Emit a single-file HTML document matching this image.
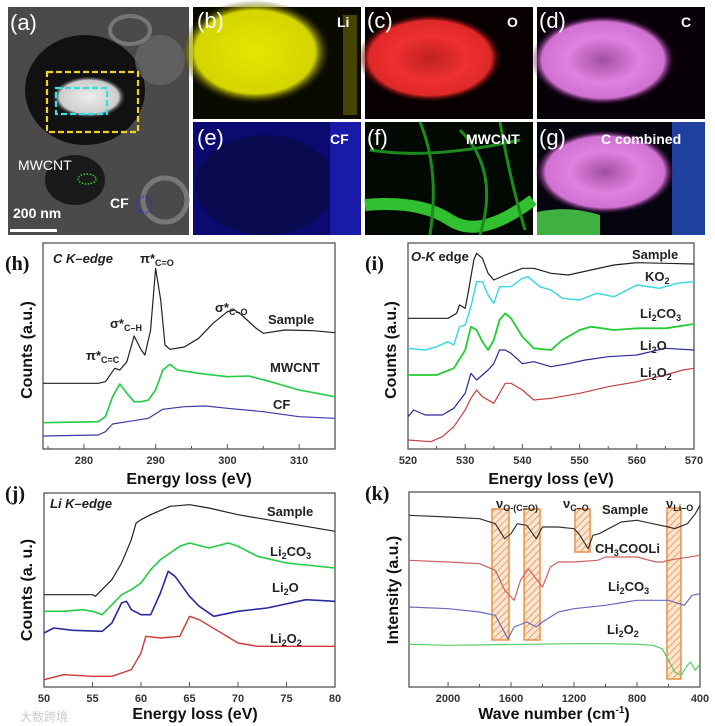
<!DOCTYPE html>
<html><head><meta charset="utf-8">
<style>
html,body{margin:0;padding:0;background:#fff;}
svg{display:block;font-family:"Liberation Sans",sans-serif;}
.lab{font-weight:bold;font-size:13px;fill:#222;}
.tick{font-weight:bold;font-size:11px;fill:#333;}
.title{font-weight:bold;font-size:16px;fill:#111;}
.pl{font-family:"Liberation Serif",serif;font-weight:bold;font-size:20px;fill:#111;}
.il{font-size:22px;fill:#fff;}
</style></head><body>
<svg id="fig" width="715" height="726" viewBox="0 0 715 726">
<defs>
<pattern id="hatch" width="5" height="5" patternUnits="userSpaceOnUse" patternTransform="rotate(45)">
<rect width="5" height="5" fill="#fbe6d3"/><line x1="0" y1="0" x2="0" y2="5" stroke="#e8914a" stroke-width="1.6"/></pattern>
<radialGradient id="gY"><stop offset="0" stop-color="#e6e600"/><stop offset="0.8" stop-color="#d4d400"/><stop offset="1" stop-color="#333300" stop-opacity="0"/></radialGradient>
<radialGradient id="gR"><stop offset="0" stop-color="#c02020"/><stop offset="0.5" stop-color="#ee3030"/><stop offset="0.85" stop-color="#e02828"/><stop offset="1" stop-color="#300" stop-opacity="0"/></radialGradient>
<radialGradient id="gP"><stop offset="0" stop-color="#a050a0"/><stop offset="0.5" stop-color="#e080e0"/><stop offset="0.85" stop-color="#d070d0"/><stop offset="1" stop-color="#303" stop-opacity="0"/></radialGradient>
<radialGradient id="gW"><stop offset="0" stop-color="#eee"/><stop offset="0.8" stop-color="#ccc"/><stop offset="1" stop-color="#222" stop-opacity="0"/></radialGradient>
</defs>

<!-- (a) -->
<g>
<rect x="8" y="7" width="181" height="228" fill="#4a4a4a"/>
<ellipse cx="85" cy="90" rx="60" ry="55" fill="#111"/>
<ellipse cx="75" cy="180" rx="30" ry="25" fill="#1a1a1a"/>
<ellipse cx="160" cy="60" rx="25" ry="25" fill="#6a6a6a" opacity="0.7"/>
<ellipse cx="165" cy="200" rx="22" ry="22" fill="none" stroke="#777" stroke-width="5"/>
<ellipse cx="130" cy="30" rx="20" ry="14" fill="none" stroke="#777" stroke-width="4"/>
<ellipse cx="89" cy="97" rx="37" ry="21" fill="url(#gW)"/>
<rect x="47" y="72" width="91" height="60" fill="none" stroke="#f0d020" stroke-width="2.2" stroke-dasharray="6,3"/>
<rect x="56" y="88" width="51" height="26" fill="none" stroke="#30e0e0" stroke-width="2.2" stroke-dasharray="6,3"/>
<ellipse cx="87" cy="179" rx="9" ry="5" fill="none" stroke="#20d020" stroke-width="1.5" stroke-dasharray="1.5,1.5"/>
<circle cx="144" cy="205" r="8" fill="none" stroke="#2030c0" stroke-width="1.5" stroke-dasharray="1.5,1.5"/>
<text x="10" y="30" class="il">(a)</text>
<text x="18" y="170" style="font-size:14px;fill:#fff">MWCNT</text>
<text x="110" y="208" style="font-size:14px;fill:#fff;font-weight:bold">CF</text>
<text x="13" y="218" style="font-size:14px;fill:#fff;font-weight:bold">200 nm</text>
<rect x="10" y="229" width="47" height="3" fill="#fff"/>
</g>
<!-- (b) -->
<g>
<rect x="193" y="7" width="168" height="112" fill="#0a0a00"/>
<ellipse cx="255" cy="52" rx="75" ry="52" fill="url(#gY)"/>
<rect x="343" y="15" width="14" height="100" fill="#6a6a00" opacity="0.6"/>
<text x="197" y="28" class="il">(b)</text>
<text x="337" y="27" style="font-size:14px;fill:#fff;font-weight:bold">Li</text>
</g>
<!-- (c) -->
<g>
<rect x="365" y="7" width="168" height="112" fill="#080000"/>
<ellipse cx="430" cy="58" rx="72" ry="44" fill="url(#gR)"/>
<text x="367" y="28" class="il">(c)</text>
<text x="507" y="27" style="font-size:14px;fill:#fff;font-weight:bold">O</text>
</g>
<!-- (d) -->
<g>
<rect x="537" y="7" width="168" height="112" fill="#080008"/>
<ellipse cx="603" cy="60" rx="72" ry="45" fill="url(#gP)"/>
<text x="539" y="28" class="il">(d)</text>
<text x="681" y="27" style="font-size:14px;fill:#fff;font-weight:bold">C</text>
</g>
<!-- (e) -->
<g>
<rect x="193" y="122" width="168" height="113" fill="#0a0a70"/>
<ellipse cx="265" cy="185" rx="70" ry="50" fill="#0a0a50"/>
<rect x="330" y="122" width="31" height="113" fill="#1a1aa8"/>
<text x="197" y="145" class="il">(e)</text>
<text x="330" y="144" style="font-size:14px;fill:#fff;font-weight:bold">CF</text>
</g>
<!-- (f) -->
<g>
<rect x="365" y="122" width="168" height="113" fill="#020802"/>
<path d="M365 205 Q420 200 450 220 T533 200" stroke="#30c030" stroke-width="12" fill="none"/>
<path d="M420 122 Q440 170 430 235 M460 130 Q500 170 480 235 M370 150 Q430 160 520 140 M500 122 Q510 180 525 230" stroke="#1c8a1c" stroke-width="3" fill="none"/>
<text x="367" y="145" class="il">(f)</text>
<text x="466" y="144" style="font-size:14px;fill:#fff;font-weight:bold">MWCNT</text>
</g>
<!-- (g) -->
<g>
<rect x="537" y="122" width="168" height="113" fill="#050510"/>
<rect x="672" y="122" width="33" height="113" fill="#2040a0"/>
<path d="M537 212 Q570 205 600 215 L600 235 L537 235Z" fill="#40b040"/>
<ellipse cx="605" cy="172" rx="70" ry="42" fill="url(#gP)"/>
<text x="539" y="145" class="il">(g)</text>
<text x="601" y="144" style="font-size:14px;fill:#fff;font-weight:bold">C combined</text>
</g>

<g id="plots"></g>
<text x="20" y="721" style="font-size:12px;fill:#ccc">大数跨境</text>
</svg>
<script>
// ---- data ----
const hSampleX=[274.3,282,283,284.3,285,286,287,288,288.5,289.3,290,290.7,291.3,292,294,296,298,300,301,302,304,305,308,312,315];
const hSampleY=[65.7,65.7,67.3,80.7,79,87.3,113,99,94,119,180.7,149,104,99.7,102,110.7,125.7,137.3,139,134,120.7,115.7,119,118.3,116.3];
const hMwX=[274.3,282,283,284,285,286,287,288,289,290,291,292,293,296,300,303,306,310,315];
const hMwY=[26.3,27.3,32.3,52.3,65,55.7,47.3,47.3,49,59,79,84.7,79,75.7,72.3,73,67.3,59,52.3];
const hCfX=[274.3,282,283,284,286,289,291,294,297,300,305,310,315];
const hCfY=[13,14,17.3,25,27.3,30.7,39.7,42.3,43,40.7,37.3,32.3,30.7];

const iSampleX=[520,527,528.5,529,530,530.5,531.5,532,533,534,535,537,540,542,545,548,552,556,560,565,570];
const iSampleY=[130.7,130.7,135.7,144,140.7,155.7,189,195.7,190.7,175.7,169,174,180.7,180.7,175.7,174,179,184,186.3,185.7,185];
const iKo2X=[520,523,525,527,528,529,530,531,532,533,534,535,536,538,540,541,543,545,547,550,553,556,560,564,567,570];
const iKo2Y=[100.7,99,102.3,107.3,104,122.3,124,142.3,167.3,167.3,154,145.7,162.3,162.3,170.7,172.3,162.3,159,150.7,149,155.7,152.3,164,160.7,165.7,167.3];
const iCo3X=[520,525,528,530,531,532,533,534,535,536,537,538,540,542,545,547,550,552,556,560,565,570];
const iCo3Y=[74,74,80.7,99,122.3,119,107.3,99,109,129,135.7,130.7,112.3,100.7,99,109,119,122.3,119,120.7,120.7,125];
const iLi2oX=[520,521,523,526,528,530,531,532,533,534,535,536,537,538,540,542,545,548,551,555,560,565,570];
const iLi2oY=[32.3,39,34,34,40.7,55.7,75.7,69,74,79,85.3,99,99,95.7,85.3,87.3,82.3,85.3,89,92.3,94,100.7,99];
const iLi2o2X=[520,524,526,528,529,530,531,532,533,535,536,537,538,540,542,545,550,555,560,565,568,570];
const iLi2o2Y=[9,7.3,12.3,22.3,30.7,39,50.7,59,52.3,45.7,55.7,65.7,65.7,59,49,50.7,55.7,62.3,67.3,74,79,80.7];

const jSampleX=[50,55,55.3,57,58,59,59.5,60,61,63,65,67,70,73,76,80];
const jSampleY=[92.3,92.3,90.7,107.3,124,147.3,164,167.3,172.3,180.7,182.3,179,172.3,167.3,162.3,155.7];
const jCo3X=[50,52,54,55,56,57,58,59,60,61,62,63,64,65,67,69,70,72,75,80];
const jCo3Y=[75.7,75.7,77.3,75.7,72.3,82.3,92.3,97.3,104,117.3,127.3,134,140.7,144,139,144,140.7,130.7,124,119];
const jLi2oX=[50,51,53,56,57,58,58.5,59,60,61,62,62.8,63.5,65,66,67.5,70,73,77,80];
const jLi2oY=[54,59,56.7,55.7,64,84,85.7,77.3,72.3,72.3,94,115.7,110.7,90.7,80.7,70.7,75.7,79,87.3,85.7];
const jLi2o2X=[50,52,55,57,59,60,60.5,62,64,65,66,68,70,72,75,80];
const jLi2o2Y=[7.3,12.3,10.7,10.7,17.3,34,50.7,49,50.7,70.7,67.3,55.7,44,40.7,40.7,40.7];

const kSampleX=[2248,2000,1800,1700,1640,1600,1560,1500,1440,1400,1300,1200,1170,1110,1080,1040,1000,900,800,700,600,560,480,430,400];
const kSampleY=[171.7,170,168.3,163.3,148.3,153.3,163.3,161.7,148.3,160,160,158.3,153.3,138.3,151.7,153.3,156.7,165,166.7,163.3,160,158.3,163.3,173.3,181.7];
const kAcX=[2248,2000,1800,1700,1640,1580,1540,1490,1450,1400,1350,1300,1200,1050,1000,800,680,640,600,400];
const kAcY=[126.7,125,123.3,116.7,96.7,86.7,106.7,118.3,110,100,120,125,125,126.7,130,130,125,125,126.7,131.7];
const kCo3X=[2248,2000,1800,1700,1660,1620,1580,1500,1440,1400,1300,1200,1000,870,800,600,500,450,400];
const kCo3Y=[80,78.3,75,71.7,60,48.3,60,65,60,65,75,78.3,81.7,85,86.7,86.7,81.7,91.7,93.3];
const kLi2o2X=[2248,2000,1500,1200,1000,800,700,640,600,560,520,480,460,430,400];
const kLi2o2Y=[42.7,41.7,42.7,43.3,43.3,42.7,41.7,38.3,26.7,15,11.7,21.7,25,16.7,23.3];
const kBandsLo=[1613,1416,1098,521];
const kBandsHi=[1721,1517,1194,610];
const kBandsTop=[178,178,178,179];
const kBandsBot=[47,47,135,8];

const hTicks=[280,290,300,310];
const iTicks=[520,530,540,550,560,570];
const jTicks=[50,55,60,65,70,75,80];
const kTicks=[2000,1600,1200,800,400];

// ---- drawing ----
const NS='http://www.w3.org/2000/svg';
const root=document.getElementById('plots');
function mk(tag,attrs,parent){const e=document.createElementNS(NS,tag);for(const k in attrs)e.setAttribute(k,attrs[k]);(parent||root).appendChild(e);return e;}
function axis(x0,x1,px0,px1,bottom){return{x:v=>px0+(v-x0)/(x1-x0)*(px1-px0),y:v=>bottom-v};}
function line(ax,xs,ys,color,name,w){
  let d='';for(let i=0;i<xs.length;i++)d+=(i?'L':'M')+ax.x(xs[i]).toFixed(1)+' '+ax.y(ys[i]).toFixed(1);
  const p=mk('path',{d:d,fill:'none',stroke:color,'stroke-width':w||1.2,'stroke-linejoin':'round'});
  
  
}
function frame(ax,L,R,T,B,ticks,minor,name){
  const g=mk('g',{});
  
  
  mk('rect',{x:L,y:T,width:R-L,height:B-T,fill:'none',stroke:'#555','stroke-width':1.3},g);
  ticks.forEach(t=>{const x=ax.x(t);mk('line',{x1:x,x2:x,y1:B,y2:B-5,stroke:'#555'},g);
    const tx=mk('text',{x:x,y:B+15,'text-anchor':'middle',class:'tick'},g);tx.textContent=t;
    
    });
  minor.forEach(t=>{const x=ax.x(t);mk('line',{x1:x,x2:x,y1:B,y2:B-3,stroke:'#555'},g);});
}
function txt(x,y,html,cls,name,extra){const t=mk('text',Object.assign({x:x,y:y,class:cls},extra||{}));t.innerHTML=html;
  
  return t;}

// h
const hA=axis(274.3,315,43,335,449);
frame(hA,43,335,243,449,hTicks,[275,285,295,305,315],'panel-h-axes');
line(hA,hCfX,hCfY,'#3a3aa8','cf-line');
line(hA,hMwX,hMwY,'#22cc44','mwcnt-line',1.6);
line(hA,hSampleX,hSampleY,'#222','sample-line-h');
txt(5,270,'(h)','pl','panel-h-label');
txt(53,263,'C K–edge','lab','h-edge-title',{'font-style':'italic'});
txt(140,263,'π*<tspan font-size="9" dy="3">C=O</tspan>','lab','pi-co-label');
txt(110,328,'σ*<tspan font-size="9" dy="3">C–H</tspan>','lab','sigma-ch-label');
txt(86,360,'π*<tspan font-size="9" dy="3">C=C</tspan>','lab','pi-cc-label');
txt(215,312,'σ*<tspan font-size="9" dy="3">C–O</tspan>','lab','sigma-co-label');
txt(268,324,'Sample','lab','h-sample-label');
txt(270,372,'MWCNT','lab','h-mwcnt-label');
txt(273,409,'CF','lab','h-cf-label');
txt(189,484,'Energy loss (eV)','title','h-x-title',{'text-anchor':'middle'});
txt(0,0,'Counts (a.u.)','title','h-y-title',{transform:'translate(32,350) rotate(-90)','text-anchor':'middle'});

// i
const iA=axis(520,570,408,694,449);
frame(iA,408,694,243,449,iTicks,[525,535,545,555,565],'panel-i-axes');
line(iA,iLi2o2X,iLi2o2Y,'#c84040','li2o2-line-i');
line(iA,iLi2oX,iLi2oY,'#2a2a98','li2o-line-i');
line(iA,iCo3X,iCo3Y,'#22cc33','li2co3-line-i',1.8);
line(iA,iKo2X,iKo2Y,'#33d8e0','ko2-line',1.4);
line(iA,iSampleX,iSampleY,'#222','sample-line-i');
txt(365,270,'(i)','pl','panel-i-label');
txt(411,261,'<tspan font-style="italic">O-K</tspan> edge','lab','i-edge-title',{'font-size':'11'});
txt(632,259,'Sample','lab','i-sample-label');
txt(645,281,'KO<tspan font-size="9" dy="3">2</tspan>','lab','ko2-label');
txt(640,318,'Li<tspan font-size="9" dy="3">2</tspan><tspan dy="-3">CO</tspan><tspan font-size="9" dy="3">3</tspan>','lab','i-li2co3-label');
txt(640,350,'Li<tspan font-size="9" dy="3">2</tspan><tspan dy="-3">O</tspan>','lab','i-li2o-label');
txt(640,377,'Li<tspan font-size="9" dy="3">2</tspan><tspan dy="-3">O</tspan><tspan font-size="9" dy="3">2</tspan>','lab','i-li2o2-label');
txt(551,484,'Energy loss (eV)','title','i-x-title',{'text-anchor':'middle'});
txt(0,0,'Counts (a.u.)','title','i-y-title',{transform:'translate(396,350) rotate(-90)','text-anchor':'middle'});

// j
const jA=axis(50,80,44,335,687);
frame(jA,44,335,493,687,jTicks,[],'panel-j-axes');
line(jA,jLi2o2X,jLi2o2Y,'#d03838','li2o2-line-j',1.4);
line(jA,jLi2oX,jLi2oY,'#2a2aa0','li2o-line-j',1.6);
line(jA,jCo3X,jCo3Y,'#22cc44','li2co3-line-j',1.6);
line(jA,jSampleX,jSampleY,'#222','sample-line-j');
txt(5,500,'(j)','pl','panel-j-label');
txt(50,508,'Li K–edge','lab','j-edge-title',{'font-style':'italic'});
txt(267,516,'Sample','lab','j-sample-label');
txt(270,556,'Li<tspan font-size="9" dy="3">2</tspan><tspan dy="-3">CO</tspan><tspan font-size="9" dy="3">3</tspan>','lab','j-li2co3-label');
txt(272,592,'Li<tspan font-size="9" dy="3">2</tspan><tspan dy="-3">O</tspan>','lab','j-li2o-label');
txt(270,643,'Li<tspan font-size="9" dy="3">2</tspan><tspan dy="-3">O</tspan><tspan font-size="9" dy="3">2</tspan>','lab','j-li2o2-label');
txt(195,719,'Energy loss (eV)','title','j-x-title',{'text-anchor':'middle'});
txt(0,0,'Counts (a. u.)','title','j-y-title',{transform:'translate(32,590) rotate(-90)','text-anchor':'middle'});

// k
const kA=axis(2248,400,409,700,687);
frame(kA,409,700,492,687,kTicks,[1800,1400,1000,600],'panel-k-axes');
for(let i=0;i<kBandsLo.length;i++){
  const x1=kA.x(kBandsHi[i]),x2=kA.x(kBandsLo[i]);
  const r=mk('rect',{x:x1,y:kA.y(kBandsTop[i]),width:x2-x1,height:kBandsTop[i]-kBandsBot[i],fill:'url(#hatch)',stroke:'#e8914a','stroke-width':1.5});
  
  
}
line(kA,kLi2o2X,kLi2o2Y,'#55cc66','li2o2-line-k');
line(kA,kCo3X,kCo3Y,'#6a6ab8','li2co3-line-k');
line(kA,kAcX,kAcY,'#d06060','ch3cooli-line');
line(kA,kSampleX,kSampleY,'#333','sample-line-k');
txt(365,500,'(k)','pl','panel-k-label');
txt(496,508,'ν<tspan font-size="9" dy="3">O-(C=O)</tspan>','lab','nu-oco-label',{'font-size':'15'});
txt(563,508,'ν<tspan font-size="9" dy="3">C–O</tspan>','lab','nu-co-label',{'font-size':'15'});
txt(666,508,'ν<tspan font-size="9" dy="3">Li–O</tspan>','lab','nu-lio-label',{'font-size':'15'});
txt(602,514,'Sample','lab','k-sample-label');
txt(595,553,'CH<tspan font-size="9" dy="3">3</tspan><tspan dy="-3">COOLi</tspan>','lab','ch3cooli-label');
txt(608,591,'Li<tspan font-size="9" dy="3">2</tspan><tspan dy="-3">CO</tspan><tspan font-size="9" dy="3">3</tspan>','lab','k-li2co3-label');
txt(607,634,'Li<tspan font-size="9" dy="3">2</tspan><tspan dy="-3">O</tspan><tspan font-size="9" dy="3">2</tspan>','lab','k-li2o2-label');
txt(554,719,'Wave number (cm<tspan font-size="10" dy="-6">-1</tspan><tspan dy="6">)</tspan>','title','k-x-title',{'text-anchor':'middle'});
txt(0,0,'Intensity (a.u.)','title','k-y-title',{transform:'translate(398,590) rotate(-90)','text-anchor':'middle','font-weight':'normal'});
</script>
</body></html>
